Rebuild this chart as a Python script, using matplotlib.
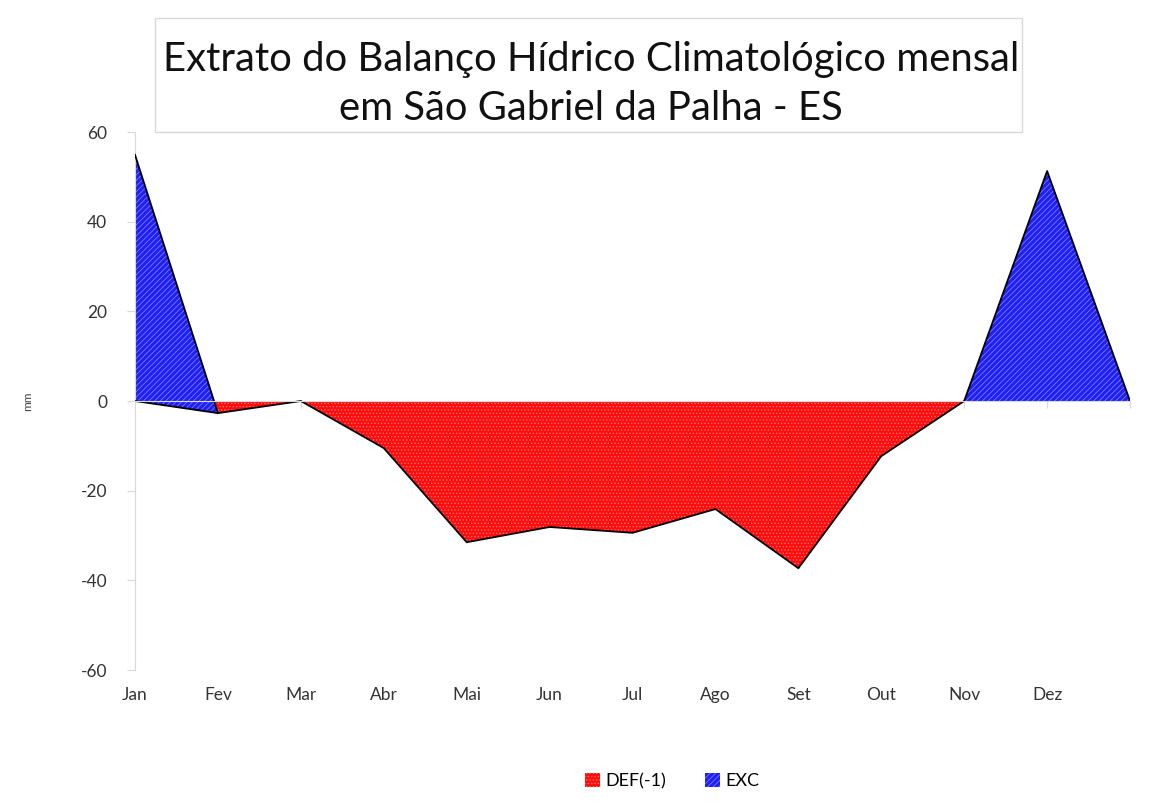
import matplotlib.pyplot as plt
import matplotlib.patches as mpatches
import numpy as np

plt.rcParams['font.family'] = ['Lato', 'DejaVu Sans']
plt.rcParams['hatch.linewidth'] = 0.6

# monthly water balance (13th point closes the area)
months = ['Jan', 'Fev', 'Mar', 'Abr', 'Mai', 'Jun', 'Jul', 'Ago', 'Set', 'Out', 'Nov', 'Dez', '']
deficit = [0, -2.7, 0, -10.5, -31.5, -28.1, -29.4, -24.1, -37.3, -12.3, 0, 0, 0]
excess = [54.9, 0, 0, 0, 0, 0, 0, 0, 0, 0, 0, 51.3, 0]

x = np.arange(len(months))
deficit = np.array(deficit)
excess = np.array(excess)
top = deficit + excess  # stacked like the excel area chart

fig = plt.figure(figsize=(11.59, 8.05), dpi=100)
ax = fig.add_axes([0.1165, 0.1677, 0.8585, 0.6683])

red = '#ff0d0d'
blue = '#1f1ff5'
ax.fill_between(x, 0, deficit, facecolor=red, edgecolor='#ff7070',
                hatch='.....', linewidth=0, zorder=2)
ax.fill_between(x, deficit, top, facecolor=blue, edgecolor='#7a7aff',
                hatch='//////', linewidth=0, zorder=2)

# outlines
ax.plot(x[:11], deficit[:11], color='black', lw=1.3, zorder=3)
ax.plot(x[:2], top[:2], color='black', lw=1.3, zorder=3)
ax.plot(x[10:], top[10:], color='black', lw=1.3, zorder=3)

ax.set_xlim(0, 12)
ax.set_ylim(-60, 60)
ax.set_yticks([-60, -40, -20, 0, 20, 40, 60])
ax.set_yticklabels(['-60', '-40', '-20', '0', '20', '40', '60'], fontsize=12.5, color='#333333')

for s in ['top', 'right']:
    ax.spines[s].set_visible(False)
ax.spines['left'].set_color('#d9d9d9')
ax.spines['bottom'].set_color('#d9d9d9')
ax.spines['bottom'].set_position(('data', 0))
ax.spines['bottom'].set_zorder(4)
ax.tick_params(axis='y', length=6, color='#d9d9d9', pad=14)
ax.set_xticks(x)
ax.tick_params(axis='x', length=5, color='#d9d9d9', labelbottom=False)

sec = ax.secondary_xaxis(0)
sec.set_xticks(x)
sec.set_xticklabels(months, fontsize=12.5, color='#333333')
sec.tick_params(length=0, pad=12)
sec.spines['bottom'].set_visible(False)

ax.set_ylabel('mm', fontsize=8.5, color='#404040')
ax.yaxis.set_label_coords(-0.1025, 0.5)

# title box
fig.patches.append(mpatches.Rectangle((0.1337, 0.836), 0.748, 0.142,
                                      transform=fig.transFigure,
                                      facecolor='white', edgecolor='#d9d9d9', lw=1))
fig.text(0.51, 0.8957, 'Extrato do Balanço Hídrico Climatológico mensal\nem São Gabriel da Palha - ES',
         ha='center', va='center', fontsize=28.8, color='#111111', linespacing=1.4)

handles = [mpatches.Patch(facecolor=red, edgecolor='#ff7070', hatch='.....', lw=0, label='DEF(-1)'),
           mpatches.Patch(facecolor=blue, edgecolor='#7a7aff', hatch='//////', lw=0, label='EXC')]
fig.legend(handles=handles, loc='center', bbox_to_anchor=(0.58, 0.03), ncol=2,
           frameon=False, fontsize=13, handlelength=0.8, handleheight=0.8,
           handletextpad=0.3, columnspacing=2.2)

fig.savefig('out.png', dpi=100)
